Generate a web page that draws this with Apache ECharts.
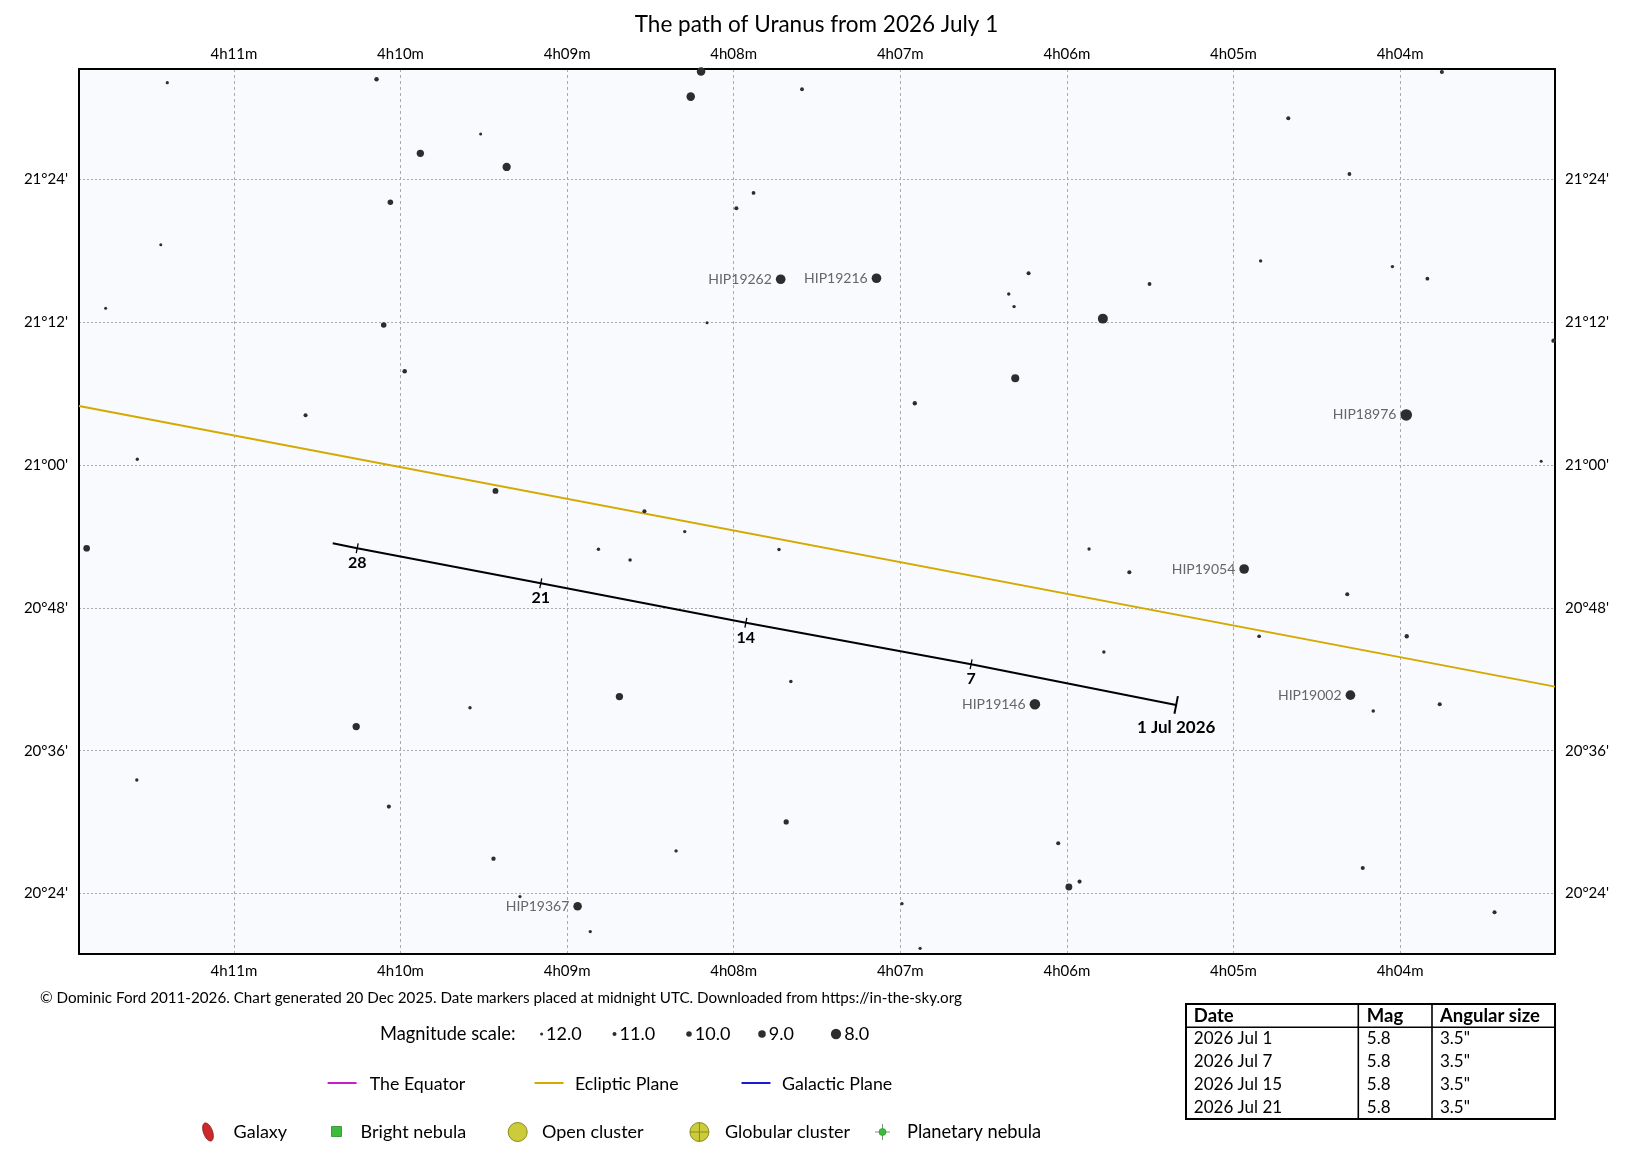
<!DOCTYPE html>
<html><head><meta charset="utf-8">
<script src="https://cdn.jsdelivr.net/npm/echarts@6/dist/echarts.min.js"></script>
<style>html,body{margin:0;padding:0;background:#fff;}#c{width:1633px;height:1151px;}</style>
</head><body><div id="c"></div>
<script>
const FONT = 'Lato, "Noto Sans", sans-serif';
// Right ascension in minutes past 4h, declination in arcminutes past +20°
const starRA  = [11.400,10.144,8.196,8.258,9.519,9.881,9.363,10.061,7.881,7.984,11.439,11.770,10.101,8.160,7.590,3.749,4.671,4.304,6.230,5.504,6.349,6.317,5.784,4.837,4.046,3.836,9.975,10.570,11.580,11.884,9.430,8.536,8.294,8.812,8.622,7.728,3.079,6.310,6.913,3.153,5.867,5.625,4.317,4.846,3.960,7.657,8.686,9.583,10.266,11.583,10.070,7.685,8.346,9.442,9.283,8.861,5.778,4.161,3.762,6.052,5.924,5.988,6.990,6.881,4.224,3.433];
const starDec = [92.11,92.40,93.05,90.94,87.80,86.18,85.03,82.07,82.85,81.56,78.50,73.16,71.76,71.95,91.56,93.01,89.12,84.44,76.10,75.20,74.36,73.30,72.29,77.14,76.66,75.65,67.87,64.17,60.48,53.00,57.82,56.11,54.40,52.92,52.02,52.89,70.44,67.28,65.18,60.31,52.94,50.99,49.14,45.61,45.61,41.80,40.54,39.61,38.02,33.54,31.30,30.01,27.58,26.93,23.74,20.80,44.29,39.34,39.90,28.22,25.00,24.55,23.15,19.40,26.15,22.43];
const starMag = [11.8,10.7,8.6,8.6,12.0,9.1,8.7,10.0,11.2,11.0,12.0,12.0,10.0,12.0,11.2,11.0,11.0,11.2,11.0,11.2,11.6,11.6,8.1,11.6,11.6,11.2,10.6,11.0,11.7,9.4,9.8,11.0,11.7,11.5,11.5,11.5,10.8,8.8,10.8,12.0,11.7,11.0,11.0,11.3,10.8,11.5,9.1,11.6,9.1,11.6,11.0,10.2,11.6,10.8,11.8,11.7,11.6,11.5,11.0,11.0,11.0,9.3,11.6,11.7,11.0,11.0];

const hipNames = ['HIP19262','HIP19216','HIP18976','HIP19054','HIP19367','HIP19146','HIP19002'];
const hipRA    = [7.718,7.143,3.963,4.936,8.937,6.192,4.298];
const hipDec   = [75.60,75.68,64.20,51.26,22.93,39.90,40.66];
const hipMag   = [8.2,8.2,7.6,8.2,8.6,7.9,8.2];

// Path of Uranus (1 Jul 2026 -> end of July)
const pathRA  = [5.344,6.575,7.927,9.158,10.260,10.407];
const pathDec = [39.84,43.26,46.75,50.06,53.00,53.42];
const markerRA  = [5.344,6.575,7.927,9.158,10.260];
const markerDec = [39.84,43.26,46.75,50.06,53.00];
const markerLabels = ['1 Jul 2026','7','14','21','28'];

const eclipticRA  = [11.93,3.07];
const eclipticDec = [64.96,41.38];

const magScale = [12.0,11.0,10.0,9.0,8.0];
const tableHeader = ['Date','Mag','Angular size'];
const tableDates = ['2026 Jul 1','2026 Jul 7','2026 Jul 15','2026 Jul 21'];
const tableMags  = ['5.8','5.8','5.8','5.8'];
const tableSizes = ['3.5"','3.5"','3.5"','3.5"'];

const magSize = m => 3.0 * Math.pow(1.36, 12 - m);
const pad = n => (n < 10 ? '0' : '') + n;
const raFmt = v => '4h' + pad(Math.round(v)) + 'm';
const decFmt = v => { const d = Math.floor(v / 60); const m = Math.round(v - d * 60); return (20 + d) + '°' + pad(m) + "'"; };

const RA_MIN = 3.07, RA_MAX = 11.93, DEC_MIN = 18.92, DEC_MAX = 93.26;

const chart = echarts.init(document.getElementById('c'), null, {renderer: 'canvas'});

function xAx(pos, grid) {
  return {
    type: 'value', position: pos, min: RA_MIN, max: RA_MAX, inverse: true,
    minInterval: 1, maxInterval: 1, splitNumber: 8,
    axisLine: {show: true, onZero: false, lineStyle: {color: '#000', width: 2}},
    axisTick: {show: false},
    axisLabel: {show: true, formatter: raFmt, margin: pos === 'top' ? 7 : 10, color: '#000', fontSize: 15, fontFamily: FONT, showMinLabel: false, showMaxLabel: false},
    splitLine: {show: grid, lineStyle: {color: '#ababab', width: 1, type: [3, 3]}}
  };
}
function yAx(pos, grid) {
  return {
    type: 'value', position: pos, min: DEC_MIN, max: DEC_MAX,
    minInterval: 12, maxInterval: 12, splitNumber: 6,
    axisLine: {show: true, onZero: false, lineStyle: {color: '#000', width: 2}},
    axisTick: {show: false},
    axisLabel: {show: true, formatter: decFmt, margin: pos === 'left' ? 11 : 10, color: '#000', fontSize: 15, fontFamily: FONT, showMinLabel: false, showMaxLabel: false},
    splitLine: {show: grid, lineStyle: {color: '#ababab', width: 1, type: [2, 2]}}
  };
}

// ---------- bottom legend & table graphics ----------
const G = [];
const txt = (x, y, text, size, opts) => G.push(Object.assign({type: 'text', x: x, y: y, silent: true,
  style: Object.assign({text: text, fontSize: size, fontFamily: FONT, fill: '#000', align: 'left', verticalAlign: 'middle', textAlign: 'left', textVerticalAlign: 'middle'}, (opts || {}))}));

txt(40, 998, '© Dominic Ford 2011-2026. Chart generated 20 Dec 2025. Date markers placed at midnight UTC. Downloaded from https://in-the-sky.org', 15.2);

// magnitude scale
txt(380, 1034, 'Magnitude scale:', 18.3);
const magX = [541.6, 614.5, 689, 762, 836];
magScale.forEach((m, i) => {
  G.push({type: 'circle', silent: true, shape: {cx: magX[i], cy: 1034, r: magSize(m) / 2}, style: {fill: '#2d2d2d'}});
  txt(magX[i] + magSize(m) / 2 + 3, 1034, m.toFixed(1), 18);
});

// plane lines
const planes = [['The Equator', '#c71fc7', 327.6, 369.7], ['Ecliptic Plane', '#d4a900', 534.5, 575], ['Galactic Plane', '#1a1ad6', 741.5, 782]];
planes.forEach(p => {
  G.push({type: 'line', silent: true, shape: {x1: p[2], y1: 1083, x2: p[2] + 29, y2: 1083}, style: {stroke: p[1], lineWidth: 2}});
  txt(p[3], 1084, p[0], 17.8);
});

// object types
const yR = 1132;
G.push({type: 'ellipse', silent: true, x: 208, y: yR, rotation: 0.35, shape: {cx: 0, cy: 0, rx: 4.5, ry: 9.5}, style: {fill: '#cc2a2a', stroke: '#8a1a1a', lineWidth: 0.8}});
txt(233.6, yR, 'Galaxy', 18);
G.push({type: 'rect', silent: true, shape: {x: 331.5, y: yR - 5.5, width: 10, height: 10}, style: {fill: '#3cbb3c', stroke: '#2a8a2a', lineWidth: 0.8}});
txt(360.6, yR, 'Bright nebula', 18);
G.push({type: 'circle', silent: true, shape: {cx: 517.7, cy: yR, r: 9.5}, style: {fill: '#cccc3a', stroke: '#8a8a20', lineWidth: 1}});
txt(542, yR, 'Open cluster', 18);
G.push({type: 'circle', silent: true, shape: {cx: 699.4, cy: yR, r: 9.5}, style: {fill: '#cccc3a', stroke: '#8a8a20', lineWidth: 1}});
G.push({type: 'line', silent: true, shape: {x1: 690, y1: yR, x2: 708.8, y2: yR}, style: {stroke: '#8a8a20', lineWidth: 1}});
G.push({type: 'line', silent: true, shape: {x1: 699.4, y1: yR - 9.5, x2: 699.4, y2: yR + 9.5}, style: {stroke: '#8a8a20', lineWidth: 1}});
txt(725, yR, 'Globular cluster', 18);
G.push({type: 'line', silent: true, shape: {x1: 875, y1: yR, x2: 890, y2: yR}, style: {stroke: '#7a9a7a', lineWidth: 1}});
G.push({type: 'line', silent: true, shape: {x1: 882.5, y1: yR - 8, x2: 882.5, y2: yR + 8}, style: {stroke: '#7a9a7a', lineWidth: 1}});
G.push({type: 'circle', silent: true, shape: {cx: 882.5, cy: yR, r: 3.5}, style: {fill: '#3cbb3c', stroke: '#2a8a2a', lineWidth: 0.6}});
txt(907, yR, 'Planetary nebula', 18.3);

// table
const tL = 1186, tR = 1555, tT = 1004, tB = 1119, colX = [1358.3, 1432], hdrB = 1027.3;
G.push({type: 'rect', silent: true, shape: {x: tL, y: tT, width: tR - tL, height: tB - tT}, style: {fill: '#fff', stroke: '#000', lineWidth: 2}});
G.push({type: 'line', silent: true, shape: {x1: tL, y1: hdrB, x2: tR, y2: hdrB}, style: {stroke: '#000', lineWidth: 1.6}});
colX.forEach(cx => G.push({type: 'line', silent: true, shape: {x1: cx, y1: tT, x2: cx, y2: tB}, style: {stroke: '#000', lineWidth: 1.6}}));
const textX = [1193.8, 1366.8, 1440];
tableHeader.forEach((h, i) => txt(textX[i], 1016, h, 18.5, {fontWeight: 'bold'}));
const rowY = [1039, 1061.7, 1085, 1107.7];
tableDates.forEach((d, r) => {
  txt(textX[0], rowY[r], d, 17);
  txt(textX[1], rowY[r], tableMags[r], 17);
  txt(textX[2], rowY[r], tableSizes[r], 17);
});

const option = {
  backgroundColor: '#ffffff',
  animation: false,
  title: {text: 'The path of Uranus from 2026 July 1', left: 'center', top: 8,
    textStyle: {fontSize: 22.5, fontWeight: 'normal', color: '#000', fontFamily: FONT}},
  grid: {left: 79, right: 78, top: 69, bottom: 197, containLabel: false, outerBoundsMode: 'none',
    show: true, backgroundColor: '#f9fafd', borderWidth: 0},
  xAxis: [xAx('bottom', true), xAx('top', false)],
  yAxis: [yAx('left', true), yAx('right', false)],
  series: [
    {type: 'line', name: 'Ecliptic', xAxisIndex: 0, yAxisIndex: 0, z: 2, silent: true, showSymbol: false, symbol: 'none',
      data: eclipticRA.map((r, i) => [r, eclipticDec[i]]), lineStyle: {color: '#d4a900', width: 2}},
    {type: 'scatter', name: 'Stars', z: 3, silent: true,
      data: starRA.map((r, i) => [r, starDec[i], starMag[i]]),
      symbolSize: v => magSize(v[2]), itemStyle: {color: '#2d2d2d', opacity: 1}},
    {type: 'scatter', name: 'Named stars', z: 3, silent: true,
      data: hipRA.map((r, i) => ({value: [r, hipDec[i], hipMag[i]], name: hipNames[i]})),
      symbolSize: v => magSize(v[2]), itemStyle: {color: '#2d2d2d', opacity: 1},
      label: {show: true, position: 'left', distance: 4, formatter: p => p.name, color: '#666', fontSize: 14, fontFamily: FONT}},
    {type: 'line', name: 'Uranus', z: 4, silent: true, showSymbol: false, symbol: 'none',
      data: pathRA.map((r, i) => [r, pathDec[i]]), lineStyle: {color: '#000', width: 2}},
    {type: 'scatter', name: 'Date markers', z: 5, silent: true, symbol: 'rect', symbolRotate: -11,
      symbolSize: (v, p) => p.dataIndex === 0 ? [2, 18] : [1.3, 10],
      itemStyle: {color: '#000', opacity: 1},
      data: markerRA.map((r, i) => ({value: [r, markerDec[i]], name: markerLabels[i],
        label: {distance: i === 0 ? 5 : 2, fontSize: i === 0 ? 17 : 16}})),
      label: {show: true, position: 'bottom', formatter: p => p.name, color: '#000', fontWeight: 'bold', fontFamily: FONT}}
  ],
  graphic: {elements: G}
};
chart.setOption(option);
</script></body></html>
